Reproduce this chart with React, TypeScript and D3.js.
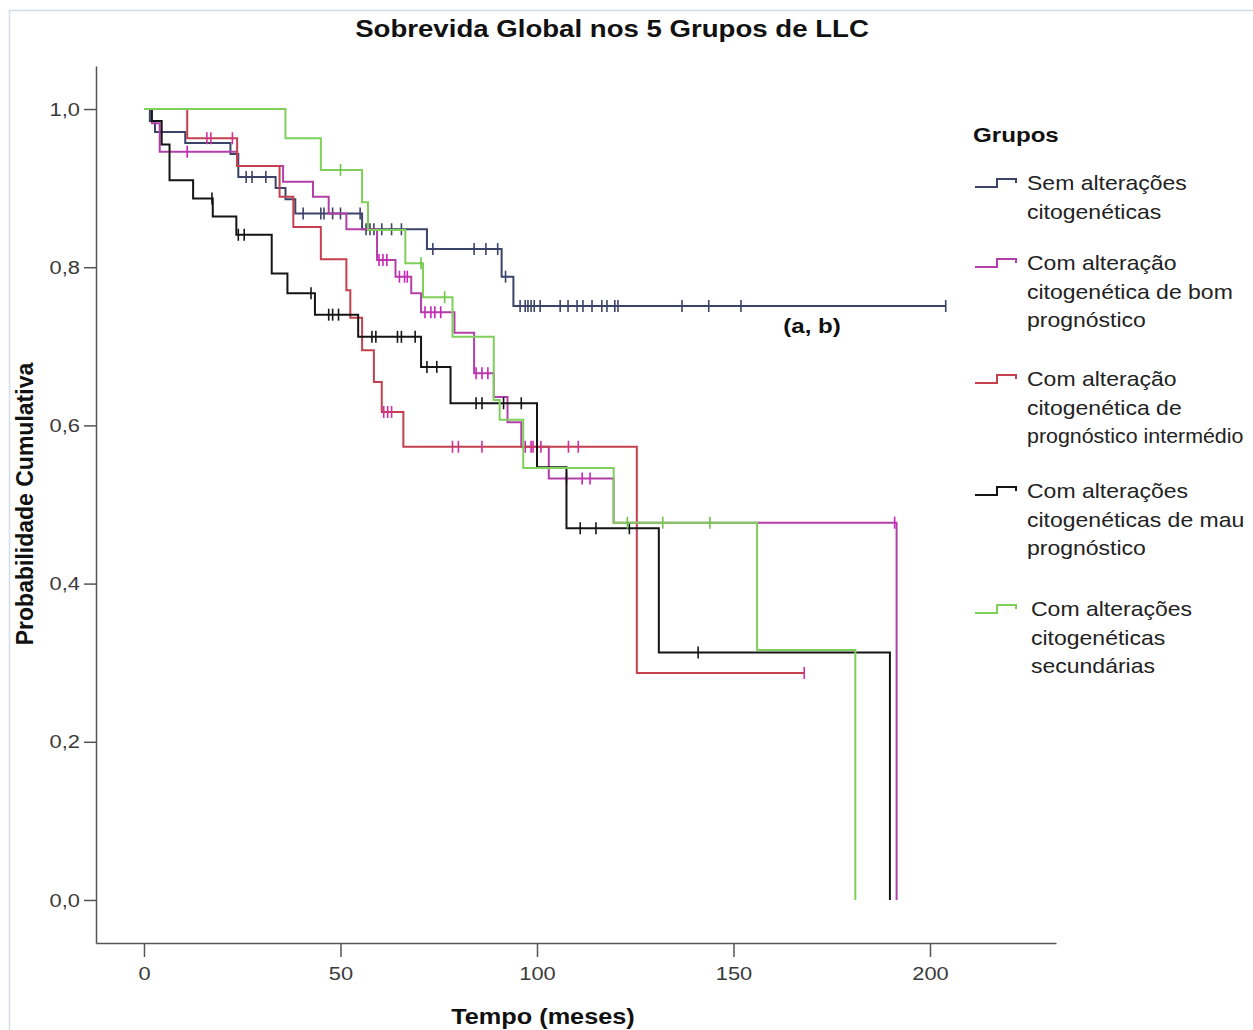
import React, { useRef, useEffect } from 'react';
import * as d3 from 'd3';

// tempo (meses) e sobrevida acumulada de cada grupo
const semTimes = [0, 1.5, 2.8, 10.5, 22, 24, 33.5, 36, 38.5, 55.5, 72, 91, 94, 204];
const semSurv = [1, 0.985, 0.971, 0.957, 0.943, 0.914, 0.9, 0.886, 0.868, 0.848, 0.823, 0.788, 0.751, 0.751];
const semCensor = [26, 27.5, 31, 40.5, 45, 45.8, 48, 50, 55, 56.5, 57.5, 58.5, 60.5, 63, 65.5, 73.5, 84, 87, 90, 92,
  95.7, 97, 97.7, 98.5, 99.3, 100.8, 105.9, 107.9, 110.2, 111.7, 114, 116.5, 117.8, 119.8, 120.6, 136.9, 143.7, 151.9, 204];

const bomTimes = [0, 2, 4, 23.7, 35.4, 43, 47, 51.5, 59.3, 64, 68, 70.5, 79, 84, 89, 92.5, 96, 103, 119.5, 191.5];
const bomSurv = [1, 0.982, 0.946, 0.928, 0.908, 0.889, 0.868, 0.848, 0.809, 0.788, 0.767, 0.743, 0.717, 0.666, 0.636, 0.604, 0.573, 0.533, 0.477, 0];
const bomCensor = [11, 59.8, 60.8, 61.8, 65, 66.3, 67, 71.5, 73, 74, 75.5, 84.5, 86, 87.5, 97, 98.5, 100, 107.5, 111.5, 113.5, 191];

const intTimes = [0, 11, 23.7, 34.5, 38, 45, 51.5, 52.5, 55.5, 58.5, 60.5, 66, 125.4, 168];
const intSurv = [1, 0.963, 0.928, 0.889, 0.851, 0.81, 0.771, 0.736, 0.695, 0.655, 0.617, 0.573, 0.287, 0.287];
const intCensor = [16, 17, 22.5, 61, 62, 63, 78.5, 80, 86, 99, 101, 108, 110.5, 168];

const mauTimes = [0, 2, 4.5, 6.5, 12.5, 17.5, 23.5, 32.5, 36.5, 43.5, 54.5, 70.5, 78, 100, 107.5, 131, 189.8];
const mauSurv = [1, 0.985, 0.955, 0.91, 0.887, 0.864, 0.841, 0.792, 0.767, 0.74, 0.712, 0.674, 0.628, 0.547, 0.47, 0.313, 0];
const mauCensor = [17.3, 24, 25.5, 42.5, 47, 48, 49.5, 58, 59, 64.5, 65.5, 69, 72, 74.5, 84.5, 86, 91.5, 96, 111, 115, 123.5, 141];

const secTimes = [0, 36, 45, 55.5, 57, 66.5, 71, 78.5, 89, 90.5, 96.5, 119.5, 156, 181];
const secSurv = [1, 0.963, 0.923, 0.882, 0.847, 0.805, 0.762, 0.712, 0.632, 0.607, 0.546, 0.477, 0.316, 0];
const secCensor = [50, 70.5, 76.5, 123, 132, 144];

const timeTicks = [0, 50, 100, 150, 200];
const probTicks = [0, 0.2, 0.4, 0.6, 0.8, 1.0];

const groups = [
  { label: ['Sem alterações', 'citogenéticas'], color: '#3c4368', censorColor: '#3c4368', times: semTimes, surv: semSurv, censor: semCensor },
  { label: ['Com alteração', 'citogenética de bom', 'prognóstico'], color: '#b23fa8', censorColor: '#cc22bb', times: bomTimes, surv: bomSurv, censor: bomCensor },
  { label: ['Com alteração', 'citogenética de', 'prognóstico intermédio'], color: '#c4404e', censorColor: '#cf2f9a', times: intTimes, surv: intSurv, censor: intCensor },
  { label: ['Com alterações', 'citogenéticas de mau', 'prognóstico'], color: '#151515', censorColor: '#151515', times: mauTimes, surv: mauSurv, censor: mauCensor },
  { label: ['Com alterações', 'citogenéticas', 'secundárias'], color: '#7fd05a', censorColor: '#6fc24a', times: secTimes, surv: secSurv, censor: secCensor },
];
const legendY = [183, 263, 379, 491, 609];

const FONT = '"Liberation Sans", Arial, sans-serif';
const SX = 1.15; // o texto do original é ligeiramente esticado na horizontal

function App() {
  const ref = useRef(null);

  useEffect(() => {
    const svg = d3.select(ref.current);
    svg.selectAll('*').remove();

    const x = d3.scaleLinear().domain([-12.21, 232.06]).range([96, 1056]);
    const y = d3.scaleLinear().domain([-0.0544, 1.0544]).range([943, 66]);

    const label = (tx, ty, s, size, opts = {}) =>
      svg.append('text')
        .attr('transform', `translate(${tx},${ty}) scale(${opts.sx || SX},1)`)
        .attr('text-anchor', opts.anchor || 'start')
        .attr('font-family', FONT)
        .attr('font-weight', opts.bold ? 'bold' : 'normal')
        .attr('font-size', size)
        .attr('fill', opts.fill || '#111')
        .text(s);

    // moldura
    svg.append('rect')
      .attr('x', 9.5).attr('y', 10.5).attr('width', 1300).attr('height', 1100)
      .attr('fill', 'white').attr('stroke', '#d3dde9').attr('stroke-width', 1.5);

    label(612, 37, 'Sobrevida Global nos 5 Grupos de LLC', 24, { anchor: 'middle', bold: true });

    const comma = (d) => d3.format('.1f')(d).replace('.', ',');

    const yAxis = d3.axisLeft(y).tickValues(probTicks).tickFormat(comma).tickSize(12).tickSizeOuter(0).tickPadding(4);
    const gy = svg.append('g').attr('transform', 'translate(96,0)').call(yAxis);
    const xAxis = d3.axisBottom(x).tickValues(timeTicks).tickSize(14).tickSizeOuter(0).tickPadding(10);
    const gx = svg.append('g').attr('transform', 'translate(0,943)').call(xAxis);
    [gy, gx].forEach(g => {
      g.select('.domain').attr('stroke', '#555').attr('stroke-width', 1.5);
      g.selectAll('.tick line').attr('stroke', '#555').attr('stroke-width', 1.5);
      g.selectAll('.tick text')
        .attr('font-family', FONT).attr('font-size', 19).attr('fill', '#3a3a3a');
    });
    gy.selectAll('.tick text')
      .attr('transform', function () { return `translate(${+d3.select(this).attr('x')},0) scale(${SX},1)`; })
      .attr('x', 0);
    gx.selectAll('.tick text').attr('transform', `scale(${SX},1)`);

    label(543, 1024, 'Tempo (meses)', 22, { anchor: 'middle', bold: true });

    svg.append('text')
      .attr('transform', 'translate(33,504) rotate(-90)')
      .attr('text-anchor', 'middle')
      .attr('font-family', FONT).attr('font-weight', 'bold').attr('font-size', 23)
      .attr('fill', '#111')
      .text('Probabilidade Cumulativa');

    const line = d3.line().curve(d3.curveStepAfter).x(d => x(d[0])).y(d => y(d[1]));

    groups.forEach(g => {
      const pts = g.times.map((t, i) => [t, g.surv[i]]);
      svg.append('path')
        .attr('d', line(pts))
        .attr('fill', 'none')
        .attr('stroke', g.color)
        .attr('stroke-width', 2);

      const at = (t) => g.surv[Math.max(0, d3.bisectRight(g.times, t) - 1)];
      svg.append('g').selectAll('line')
        .data(g.censor)
        .join('line')
        .attr('x1', d => x(d)).attr('x2', d => x(d))
        .attr('y1', d => y(at(d)) - 6).attr('y2', d => y(at(d)) + 6)
        .attr('stroke', g.censorColor)
        .attr('stroke-width', 1.6);
    });

    label(812, 333, '(a, b)', 21, { anchor: 'middle', bold: true });

    // legenda
    label(973, 142, 'Grupos', 21, { bold: true });

    groups.forEach((g, i) => {
      const cy = legendY[i];
      svg.append('path')
        .attr('d', `M975,${cy + 4}H997V${cy - 4}H1016V${cy}`)
        .attr('fill', 'none')
        .attr('stroke', g.color)
        .attr('stroke-width', 2);
      g.label.forEach((s, j) => {
        // a linha mais longa é comprimida um pouco para caber na imagem
        const sx = s.length > 20 ? 1.07 : SX;
        label(i === 4 ? 1031 : 1027, cy + 7 + j * 28.5, s, 20, { fill: '#222', sx });
      });
    });
  }, []);

  return (
    <svg ref={ref} width={1253} height={1030}
      style={{ position: 'absolute', left: 0, top: 0, background: 'white' }} />
  );
}

export default App;
